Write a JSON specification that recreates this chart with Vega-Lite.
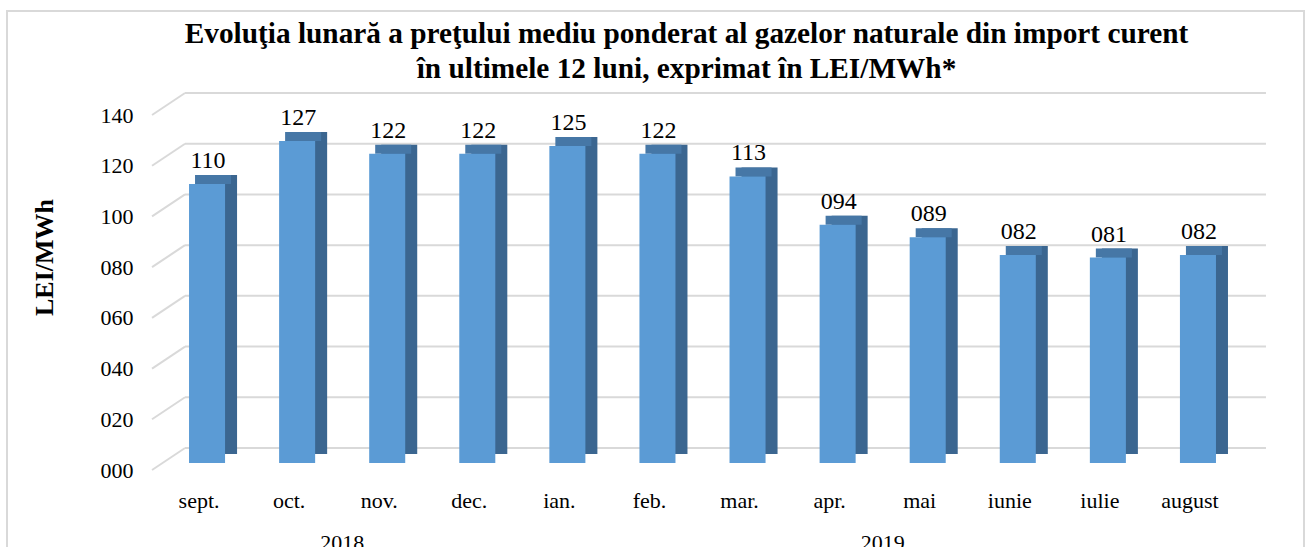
{
  "$schema": "https://vega.github.io/schema/vega-lite/v6.json",
  "autosize": {"type": "none"},
  "padding": {"left": 7, "top": 11, "right": 5, "bottom": 0},
  "width": 1297,
  "height": 560,
  "background": "white",
  "config": {
    "view": {"stroke": "#d9d9d9", "strokeWidth": 2},
    "font": "Liberation Serif",
    "text": {"font": "Liberation Serif"}
  },
  "title": {
    "text": ["Evoluţia lunară a preţului mediu ponderat al gazelor naturale din import curent", "în ultimele 12 luni, exprimat în LEI/MWh*"],
    "font": "Liberation Serif",
    "fontSize": 29.3,
    "fontWeight": "bold",
    "color": "black",
    "anchor": "middle",
    "frame": "group",
    "orient": "top",
    "baseline": "top",
    "lineHeight": 35,
    "offset": -73,
    "dx": 31
  },
  "datasets": {
    "months": [
      {"month": "sept.", "idx": 0, "year": "2018", "value": 110},
      {"month": "oct.", "idx": 1, "year": "2018", "value": 127},
      {"month": "nov.", "idx": 2, "year": "2018", "value": 122},
      {"month": "dec.", "idx": 3, "year": "2018", "value": 122},
      {"month": "ian.", "idx": 4, "year": "2019", "value": 125},
      {"month": "feb.", "idx": 5, "year": "2019", "value": 122},
      {"month": "mar.", "idx": 6, "year": "2019", "value": 113},
      {"month": "apr.", "idx": 7, "year": "2019", "value": 94},
      {"month": "mai", "idx": 8, "year": "2019", "value": 89},
      {"month": "iunie", "idx": 9, "year": "2019", "value": 82},
      {"month": "iulie", "idx": 10, "year": "2019", "value": 81},
      {"month": "august", "idx": 11, "year": "2019", "value": 82}
    ],
    "ticks": [
      {"tick": 0}, {"tick": 20}, {"tick": 40}, {"tick": 60},
      {"tick": 80}, {"tick": 100}, {"tick": 120}, {"tick": 140}
    ]
  },
  "resolve": {"scale": {"x": "independent"}, "axis": {"x": "independent"}},
  "layer": [
    {
      "layer": [
        {
          "data": {"name": "ticks"},
          "mark": {"type": "rule", "color": "#d9d9d9", "strokeWidth": 2, "xOffset": -4, "x2Offset": 50, "yOffset": -15, "y2Offset": -15},
          "encoding": {
            "x": {"datum": "sept.", "type": "nominal", "bandPosition": 0,
              "scale": {"domain": ["sept.", "oct.", "nov.", "dec.", "ian.", "feb.", "mar.", "apr.", "mai", "iunie", "iulie", "august"], "range": [155, 1236], "paddingInner": 0.6, "paddingOuter": 0.3},
              "axis": {"title": null, "orient": "bottom", "offset": -108, "domain": false, "ticks": false, "tickSize": 0, "labelPadding": 44, "labelBaseline": "alphabetic", "labelOffset": -8, "labelFont": "Liberation Serif", "labelFontSize": 22, "labelColor": "black", "labelAngle": 0, "grid": false}},
            "x2": {"datum": "august", "bandPosition": 1},
            "y": {"field": "tick", "type": "quantitative", "scale": {"domain": [0, 140], "range": [452, 97], "nice": false, "zero": true},
              "axis": {"title": "LEI/MWh", "orient": "left", "offset": -145, "values": [0, 20, 40, 60, 80, 100, 120, 140], "format": "03d", "domain": false, "ticks": false, "tickSize": 0, "grid": false, "labelPadding": 19, "labelOffset": 7, "labelFont": "Liberation Serif", "labelFontSize": 22, "labelColor": "black", "titleFont": "Liberation Serif", "titleFontSize": 26, "titleFontWeight": "bold", "titleColor": "black", "titlePadding": 43, "titleY": 246}},
            "y2": {"field": "tick"}
          }
        },
        {
          "data": {"name": "ticks"},
          "mark": {"type": "rule", "color": "#d9d9d9", "strokeWidth": 2, "xOffset": -37, "yOffset": 7, "x2Offset": -4, "y2Offset": -15},
          "encoding": {
            "x": {"datum": "sept.", "type": "nominal", "bandPosition": 0},
            "x2": {"datum": "sept.", "bandPosition": 0},
            "y": {"field": "tick", "type": "quantitative"},
            "y2": {"field": "tick"}
          }
        },
        {
          "data": {"name": "months"},
          "mark": {"type": "bar", "color": "#3b6690", "xOffset": 12, "yOffset": -9, "y2Offset": -9},
          "encoding": {
            "x": {"field": "month", "type": "nominal", "sort": null},
            "y": {"field": "value", "type": "quantitative"}
          }
        },
        {
          "data": {"name": "months"},
          "mark": {"type": "bar", "color": "#4677a6", "xOffset": 6, "y2Offset": -9},
          "encoding": {
            "x": {"field": "month", "type": "nominal", "sort": null},
            "y": {"field": "value", "type": "quantitative"},
            "y2": {"field": "value"}
          }
        },
        {
          "data": {"name": "months"},
          "mark": {"type": "bar", "color": "#5b9bd5"},
          "encoding": {
            "x": {"field": "month", "type": "nominal", "sort": null},
            "y": {"field": "value", "type": "quantitative"}
          }
        },
        {
          "data": {"name": "months"},
          "mark": {"type": "text", "font": "Liberation Serif", "fontSize": 24, "color": "black", "baseline": "alphabetic", "dy": -16, "dx": 1},
          "encoding": {
            "x": {"field": "month", "type": "nominal", "sort": null},
            "y": {"field": "value", "type": "quantitative"},
            "text": {"field": "value", "type": "quantitative", "format": "03d"}
          }
        }
      ]
    },
    {
      "data": {"name": "months"},
      "mark": {"type": "text", "font": "Liberation Serif", "fontSize": 22, "color": "black", "baseline": "alphabetic", "dy": 87},
      "encoding": {
        "x": {"aggregate": "mean", "field": "idx", "type": "quantitative", "scale": {"domain": [-0.5, 11.5], "range": [155, 1236], "nice": false, "zero": false}, "axis": null},
        "y": {"datum": 0, "type": "quantitative"},
        "text": {"field": "year", "type": "nominal"}
      }
    }
  ]
}
